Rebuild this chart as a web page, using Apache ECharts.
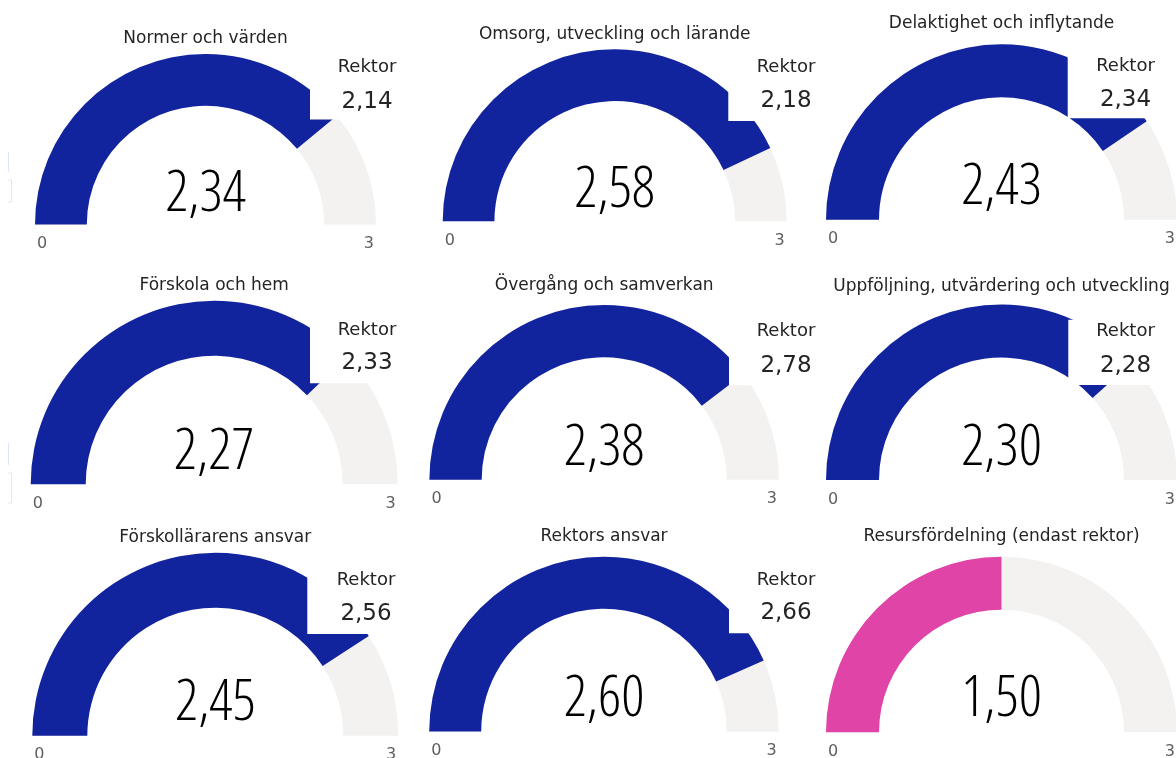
<!DOCTYPE html>
<html>
<head>
<meta charset="utf-8">
<script src="https://cdn.jsdelivr.net/npm/echarts@6/dist/echarts.min.js"></script>
<style>
html,body{margin:0;padding:0;background:#ffffff;}
#chart{width:1176px;height:758px;}
</style>
</head>
<body>
<div id="chart"></div>
<script>
// ---- data ----
const titles = [
  'Normer och värden',
  'Omsorg, utveckling och lärande',
  'Delaktighet och inflytande',
  'Förskola och hem',
  'Övergång och samverkan',
  'Uppföljning, utvärdering och utveckling',
  'Förskollärarens ansvar',
  'Rektors ansvar',
  'Resursfördelning (endast rektor)'
];
const values  = [2.34, 2.58, 2.43, 2.27, 2.38, 2.30, 2.45, 2.60, 1.50];
const targets = [2.14, 2.18, 2.34, 2.33, 2.78, 2.28, 2.56, 2.66, null];
const targetName = 'Rektor';
const axisMin = 0;
const axisMax = 3;
const tickLabels = ['0', '3'];

// ---- layout (pixels) ----
const layout = [
  {cx:205.5, cy:224.5, R:170.5, r0:118.7, titleY:38.5,valueY:195, lx:367,    ly:67,    vy:102, boxL:310,    boxB:119.5},
  {cx:614.7, cy:221.3, R:172,   r0:120.3, titleY:34.5,valueY:191, lx:786,    ly:67,    vy:101, boxL:728.3,  boxB:121},
  {cx:1001.5,cy:219.8, R:175.5, r0:122.5, titleY:24,  valueY:187.5,lx:1125.5,ly:66.7,  vy:100, boxL:1067.7, boxB:118.3},
  {cx:214.2, cy:484.2, R:183.5, r0:128.5, titleY:285.5,valueY:452.5,lx:367,  ly:330,   vy:363, boxL:310,    boxB:383.3},
  {cx:604.2, cy:479.8, R:174.8, r0:122.5, titleY:285.5,valueY:448.3,lx:786,  ly:331,   vy:366, boxL:729,    boxB:385.3},
  {cx:1001.5,cy:480,   R:175.5, r0:122.5, titleY:286.5,valueY:448.3,lx:1125.5,ly:331.7,vy:366, boxL:1068.3, boxB:385},
  {cx:215.3, cy:735.7, R:183,   r0:128,   titleY:537.5,valueY:703.3,lx:366,  ly:580.7, vy:614, boxL:307.3,  boxB:634},
  {cx:604,   cy:731.5, R:174.8, r0:122.8, titleY:536.5,valueY:700, lx:786,   ly:580,   vy:613, boxL:729,    boxB:633.3},
  {cx:1001.5,cy:732.2, R:175.5, r0:122.5, titleY:536.5,valueY:700, lx:1125.5,ly:580,   vy:613, boxL:1068,   boxB:633}
];
const fillColors = ['#12239E','#12239E','#12239E','#12239E','#12239E','#12239E','#12239E','#12239E','#E044A7'];
const trackColor = '#F3F2F1';
const textFont = "'DejaVu Sans', sans-serif";
const bigFont = "'Open Sans', sans-serif";

const fmt = v => v.toFixed(2).replace('.', ',');

const series = layout.map((L, i) => ({
  type: 'gauge',
  center: [L.cx, L.cy],
  radius: L.R,
  startAngle: 180,
  endAngle: 0,
  min: axisMin,
  max: axisMax,
  splitNumber: 1,
  animation: false,
  silent: true,
  axisLine: {show: true, roundCap: false, lineStyle: {width: L.R - L.r0, color: [[1, trackColor]]}},
  progress: {show: true, overlap: true, roundCap: false, width: L.R - L.r0, itemStyle: {color: fillColors[i]}},
  pointer: {show: false},
  anchor: {show: false},
  axisTick: {show: false},
  splitLine: {show: false, length: 0, distance: 0},
  axisLabel: {
    show: true, distance: 2, color: '#605E5C', fontSize: 16, fontFamily: textFont,
    lineHeight: 39,
    formatter: v => '\n' + tickLabels[v === axisMin ? 0 : 1]
  },
  title: {
    show: true, offsetCenter: [0, L.titleY - L.cy], fontSize: 17, color: '#252423', fontFamily: textFont
  },
  detail: {
    show: true, offsetCenter: [0, L.valueY - L.cy], fontSize: 57, lineHeight: 64, width: 220,
    fontWeight: 300, fontStyle: 'condensed', fontFamily: bigFont, color: '#000000', padding: 0,
    formatter: v => fmt(v)
  },
  data: [{value: values[i], name: titles[i]}]
}));

const elements = [];
layout.forEach((L, i) => {
  if (targets[i] == null) return;
  const top = L.ly - 12;
  elements.push({type: 'rect', z: 100, shape: {x: L.boxL, y: top, width: 122, height: L.boxB - top}, style: {fill: '#ffffff'}, silent: true});
  elements.push({type: 'text', z: 101, x: L.lx, y: L.ly, style: {text: targetName, fontSize: 18, fontFamily: textFont, fill: '#252423', align: 'center', verticalAlign: 'middle'}});
  elements.push({type: 'text', z: 101, x: L.lx, y: L.vy, style: {text: fmt(targets[i]), fontSize: 23, fontFamily: textFont, fill: '#252423', align: 'center', verticalAlign: 'middle'}});
});
// faint slicer remnants at the left edge
[[151.7, 171.7, 180, 202], [443, 465, 473, 503]].forEach(s => {
  elements.push({type: 'line', z: 5, silent: true, shape: {x1: 8.5, y1: s[0], x2: 8.5, y2: s[1]}, style: {stroke: '#DCE6F7', lineWidth: 1}});
  elements.push({type: 'polyline', z: 5, silent: true, shape: {points: [[8, s[2]], [11.5, s[2]], [11.5, s[3]], [8, s[3]]]}, style: {stroke: '#E6E6E6', lineWidth: 1, fill: null}});
});

const chart = echarts.init(document.getElementById('chart'), null, {renderer: 'canvas'});
chart.setOption({
  backgroundColor: '#ffffff',
  animation: false,
  series: series,
  graphic: {elements: elements}
});
</script>
</body>
</html>
